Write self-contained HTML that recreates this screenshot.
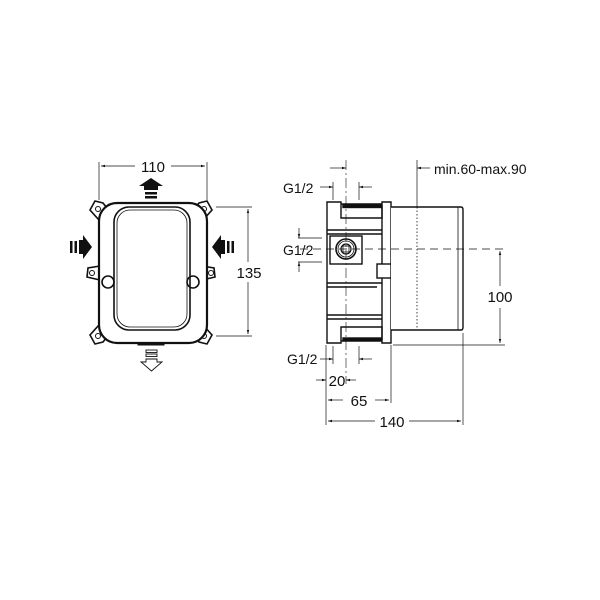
<!DOCTYPE html>
<html><head><style>
html,body{margin:0;padding:0;background:#fff;}
svg{display:block;font-family:"Liberation Sans",sans-serif;}
text{font-size:15px;fill:#111;}
</style></head><body>
<svg width="600" height="600" viewBox="0 0 600 600" xmlns="http://www.w3.org/2000/svg">
<defs>
<marker id="a" viewBox="0 0 10 10" refX="10" refY="5" markerWidth="6" markerHeight="6" orient="auto-start-reverse"><path d="M0,2 L10,5 L0,8 z" fill="#111"/></marker>
</defs>
<g stroke="#111" fill="none" stroke-width="1">
<g stroke-width="1.6" fill="#fff">
<path d="M90,210 L95,201 L103,203 L110,212 L99,220 z"/>
<path d="M212,210 L207,201 L199,203 L192,212 L203,220 z"/>
<path d="M90,335 L95,344 L103,342 L110,333 L99,325 z"/>
<path d="M212,335 L207,344 L199,342 L192,333 L203,325 z"/>
<path d="M100,266 L88,268 L87,277 L100,280 z"/>
<path d="M202,266 L214,268 L215,277 L202,280 z"/>
</g>
<circle cx="98" cy="209" r="2.5"/><circle cx="204" cy="209" r="2.5"/>
<circle cx="98" cy="336" r="2.5"/><circle cx="204" cy="336" r="2.5"/>
<circle cx="92" cy="273" r="2.5"/><circle cx="211" cy="273" r="2.5"/>
<rect x="99" y="203" width="108" height="140" rx="18" stroke-width="2.2" fill="#fff"/>
<rect x="114" y="207" width="76" height="123" rx="15" stroke-width="1.6"/>
<rect x="117" y="210" width="70" height="117" rx="13" stroke-width="0.8"/>
<circle cx="108" cy="282" r="6" stroke-width="1.6"/>
<circle cx="193" cy="282" r="6" stroke-width="1.6"/>
<rect x="138" y="343" width="26" height="2" fill="#111"/>
<line x1="99" y1="162" x2="99" y2="200" stroke-width="0.7"/>
<line x1="207" y1="162" x2="207" y2="200" stroke-width="0.7"/>
<line x1="101" y1="166" x2="135" y2="166" marker-start="url(#a)" stroke-width="0.7"/>
<line x1="171" y1="166" x2="205" y2="166" marker-end="url(#a)" stroke-width="0.7"/>
<line x1="216" y1="207" x2="252" y2="207" stroke-width="0.7"/>
<line x1="216" y1="336" x2="252" y2="336" stroke-width="0.7"/>
<line x1="248" y1="209" x2="248" y2="262" marker-start="url(#a)" stroke-width="0.7"/>
<line x1="248" y1="282" x2="248" y2="334" marker-end="url(#a)" stroke-width="0.7"/>
<g stroke-width="1.4">
<path d="M327,202 L341,202 L341,218 L382,218 L382,202 L391,202 L391,343 L382,343 L382,327 L341,327 L341,343 L327,343 z" fill="#fff"/>
<line x1="341" y1="204" x2="382" y2="204"/>
<line x1="382" y1="205" x2="382" y2="340"/>
<rect x="343" y="205" width="38" height="2.5" fill="#111"/>
<rect x="343" y="338" width="38" height="2.5" fill="#111"/>
<line x1="341" y1="341" x2="382" y2="341"/>
<line x1="327" y1="230" x2="382" y2="230"/>
<line x1="327" y1="234" x2="382" y2="234"/>
<line x1="327" y1="283" x2="382" y2="283"/>
<line x1="327" y1="287" x2="377" y2="287"/>
<line x1="327" y1="315" x2="382" y2="315"/>
<line x1="327" y1="319" x2="382" y2="319"/>
<rect x="330" y="236" width="32" height="28"/>
<rect x="377" y="264" width="14" height="14" fill="#fff"/>
<path d="M391,207 L461,207 Q463,207 463,210 L463,327 Q463,330 461,330 L391,330" fill="#fff"/>
<line x1="458" y1="207" x2="458" y2="330" stroke-width="0.8"/>
</g>
<circle cx="346" cy="249" r="10" stroke-width="1.6"/>
<circle cx="346" cy="249" r="8" stroke-width="0.8"/>
<circle cx="346" cy="249" r="5" stroke-width="1.2"/>
<rect x="343" y="246" width="6" height="6" stroke-width="0.8"/>
<line x1="417" y1="207" x2="417" y2="330" stroke-dasharray="1.5,2" stroke-width="0.8"/>
<line x1="300" y1="249" x2="505" y2="249" stroke-dasharray="8,5" stroke-width="0.7"/>
<line x1="346" y1="160" x2="346" y2="384" stroke-dasharray="10,3,2,3" stroke-width="0.6"/>
<g stroke-width="0.7">
<line x1="330" y1="168" x2="346" y2="168" marker-end="url(#a)"/>
<line x1="417" y1="160" x2="417" y2="207"/>
<line x1="430" y1="168" x2="417" y2="168" marker-end="url(#a)"/>
<line x1="333" y1="182" x2="333" y2="200"/>
<line x1="359" y1="182" x2="359" y2="200"/>
<line x1="320" y1="187" x2="333" y2="187" marker-end="url(#a)"/>
<line x1="372" y1="187" x2="359" y2="187" marker-end="url(#a)"/>
<line x1="298" y1="238" x2="322" y2="238"/>
<line x1="298" y1="262" x2="322" y2="262"/>
<line x1="299" y1="228" x2="299" y2="238" marker-end="url(#a)"/>
<line x1="299" y1="272" x2="299" y2="262" marker-end="url(#a)"/>
<line x1="333" y1="346" x2="333" y2="364"/>
<line x1="359" y1="346" x2="359" y2="364"/>
<line x1="320" y1="359" x2="333" y2="359" marker-end="url(#a)"/>
<line x1="372" y1="359" x2="359" y2="359" marker-end="url(#a)"/>
<line x1="326" y1="345" x2="326" y2="425"/>
<line x1="391" y1="345" x2="391" y2="403"/>
<line x1="463" y1="333" x2="463" y2="425"/>
<line x1="393" y1="345" x2="505" y2="345"/>
<line x1="316" y1="380" x2="326" y2="380" marker-end="url(#a)"/>
<line x1="356" y1="380" x2="346" y2="380" marker-end="url(#a)"/>
<line x1="343" y1="400" x2="328" y2="400" marker-end="url(#a)"/>
<line x1="375" y1="400" x2="389" y2="400" marker-end="url(#a)"/>
<line x1="375" y1="421" x2="328" y2="421" marker-end="url(#a)"/>
<line x1="409" y1="421" x2="461" y2="421" marker-end="url(#a)"/>
<line x1="500" y1="251" x2="500" y2="286" marker-start="url(#a)"/>
<line x1="500" y1="308" x2="500" y2="343" marker-end="url(#a)"/>
</g>
</g>
<g fill="#111">
<path d="M144,190 L144,186 L139,186 L151,178 L163,186 L158,186 L158,190 z"/>
<rect x="145" y="192" width="12" height="2.5"/><rect x="145" y="196" width="12" height="2.5"/>
<path d="M79,240 L83,240 L83,235 L92,247 L83,259 L83,254 L79,254 z"/>
<rect x="70" y="241" width="2.5" height="12"/><rect x="74.5" y="241" width="2.5" height="12"/>
<path d="M225,240 L221,240 L221,235 L212,247 L221,259 L221,254 L225,254 z"/>
<rect x="231.5" y="241" width="2.5" height="12"/><rect x="227" y="241" width="2.5" height="12"/>
</g>
<g fill="#fff" stroke="#111" stroke-width="0.9">
<rect x="146" y="350" width="11" height="2.5"/><rect x="146" y="354" width="11" height="2.5"/>
<path d="M146,359 L157,359 L157,362 L162,362 L151.5,371 L141,362 L146,362 z"/>
</g>
<g text-anchor="middle">
<text x="153" y="172">110</text>
<text x="249" y="278">135</text>
<text x="500" y="302">100</text>
<text x="392" y="427">140</text>
<text x="359" y="406">65</text>
<text x="337" y="386">20</text>
</g>
<text x="434" y="174" style="font-size:14px">min.60-max.90</text>
<text x="283" y="193" style="font-size:14px">G1/2</text>
<text x="283" y="255" style="font-size:14px">G1/2</text>
<text x="287" y="364" style="font-size:14px">G1/2</text>
</svg>
</body></html>
